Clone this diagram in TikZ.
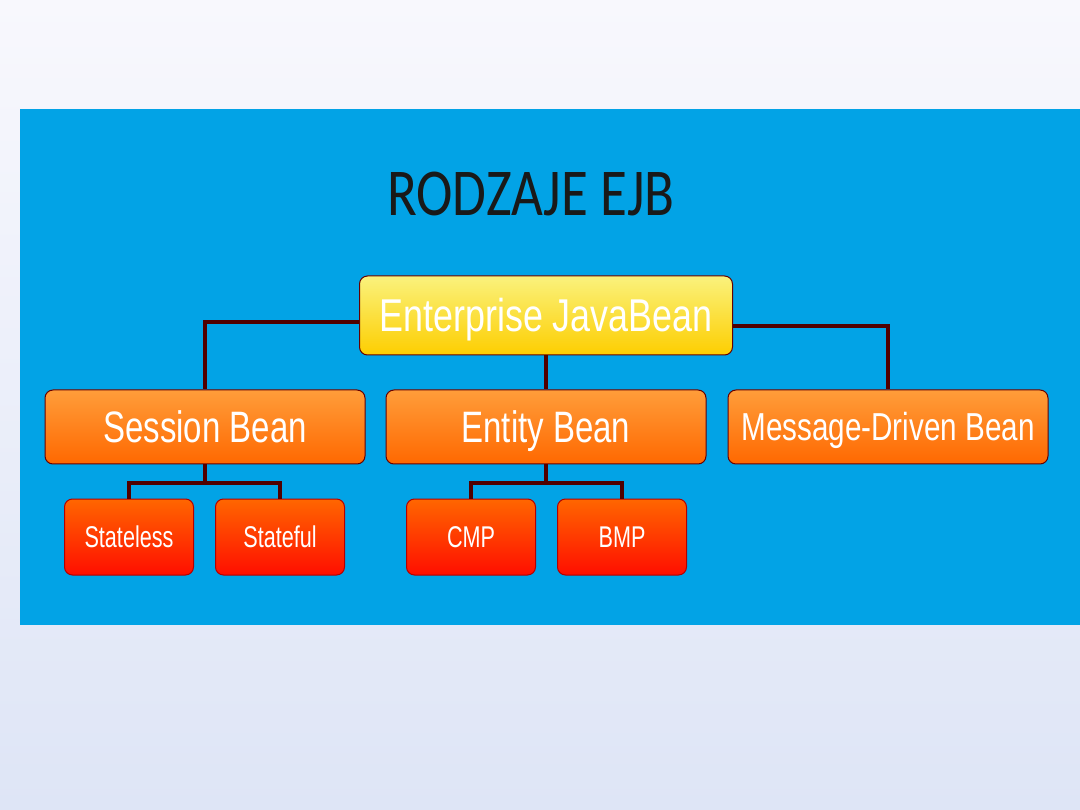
\documentclass[tikz,border=0pt]{standalone}
\usepackage{fontspec}
\setmainfont{Liberation Sans}
\newfontfamily\titlefont{Carlito}
\usepackage{graphicx}
\definecolor{bgtop}{RGB}{248,248,253}
\definecolor{bgbot}{RGB}{222,229,246}
\definecolor{panel}{RGB}{2,163,230}
\definecolor{rootTop}{RGB}{250,242,125}
\definecolor{rootBot}{RGB}{253,206,0}
\definecolor{kindTop}{RGB}{255,157,58}
\definecolor{kindBot}{RGB}{255,104,0}
\definecolor{leafTop}{RGB}{255,102,0}
\definecolor{leafBot}{RGB}{255,14,0}
\definecolor{linkbrown}{RGB}{80,0,0}
\newcommand{\narrow}[2][0.74]{\scalebox{#1}[1]{#2}}
\begin{document}
\begin{tikzpicture}[x=1pt, y=-1pt,
          bean/.style={
            draw=red!40!black, line width=1pt, rounded corners=8pt,
            text=white, inner sep=0pt, anchor=center, text depth=0pt
          },
          root/.style={bean, minimum width=373pt, minimum height=79pt, text height=33pt,
            top color=rootTop, bottom color=rootBot, font=\fontsize{46}{48}\selectfont},
          kind/.style={bean, minimum width=320pt, minimum height=74pt, text height=31.5pt,
            top color=kindTop, bottom color=kindBot, font=\fontsize{44}{46}\selectfont},
          leaf/.style={bean, draw=red!70!black, minimum width=129pt, minimum height=76pt,
            text height=21.5pt,
            top color=leafTop, bottom color=leafBot, font=\fontsize{30}{32}\selectfont},
          link/.style={line width=4pt, draw=linkbrown},
        ]
          % --- Background and panel ---
          \fill[top color=bgtop, bottom color=bgbot] (0,0) rectangle (1080,810);
          \fill[panel] (20,109) rectangle (1080,625);

          % --- Title ---
          \node[font=\titlefont\fontsize{67}{70}\selectfont, text=black!90] (title) at (531,194)
            {\narrow[0.82]{RODZAJE EJB}};

          % --- Levels ---
          \node[root] (ejb) at (546,315.5) {\narrow[0.78]{Enterprise JavaBean}};
          \node[kind] (session) at (205,427) {\narrow[0.75]{Session Bean}};
          \node[kind] (entity) at (546,427) {\narrow[0.75]{Entity Bean}};
          \node[kind, font=\fontsize{39}{41}\selectfont, text height=28pt] (mdb) at (888,427)
            {\narrow[0.76]{Message-Driven Bean}};
          \foreach \name/\x/\txt in {stateless/129/Stateless, stateful/280/Stateful,
                                     cmp/471/CMP, bmp/622/BMP} {
            \node[leaf] (\name) at (\x,537) {\narrow[0.72]{\txt}};
          }

          % --- Connectors ---
          \draw[link] ([yshift=-6.5pt]ejb.west) -| (session.north);
          \draw[link] ([yshift=-10.5pt]ejb.east) -| (mdb.north);
          \draw[link] (ejb.south) -- (entity.north);

          \coordinate (sfork) at ([yshift=-18pt]session.south);
          \coordinate (efork) at ([yshift=-18pt]entity.south);
          \draw[link] (session.south) -- (sfork);
          \draw[link] (stateless.north) |- (sfork) -| (stateful.north);
          \draw[link] (entity.south) -- (efork);
          \draw[link] (cmp.north) |- (efork) -| (bmp.north);
        \end{tikzpicture}
\end{document}
